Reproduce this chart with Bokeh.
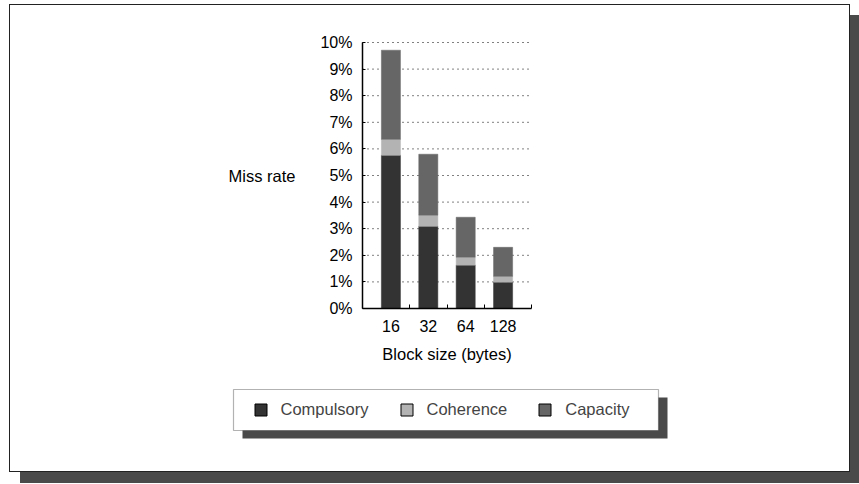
from bokeh.plotting import figure
from bokeh.models import (Range1d, LinearAxis, FixedTicker, PrintfTickFormatter, Legend,
                          LegendItem, BoxAnnotation, ColumnDataSource)
from bokeh.embed import file_html
from bokeh.resources import INLINE

# ---- data ----
block_sizes = ["16", "32", "64", "128"]
compulsory = [5.76, 3.09, 1.63, 0.99]
coherence = [0.60, 0.42, 0.30, 0.22]
capacity = [3.35, 2.29, 1.50, 1.09]
series = ["Compulsory", "Coherence", "Capacity"]
colors = ["#333333", "#b3b3b3", "#666666"]
y_ticks = list(range(0, 11))

FONT = "Liberation Sans"

# ---- layout (canvas pixels) ----
W, H = 841, 468
plot_left, plot_right = 352, 521
plot_top, plot_bottom = 37, 303
idx = list(range(len(block_sizes)))
x_lo, x_hi = -0.76, len(block_sizes) - 1 + 0.76
y_lo, y_hi = 0, 10
xs = (plot_right - plot_left) / (x_hi - x_lo)
ys = (plot_bottom - plot_top) / (y_hi - y_lo)
x_range = Range1d(x_lo - plot_left / xs, x_hi + (W - plot_right) / xs)
y_range = Range1d(y_lo - (H - plot_bottom) / ys, y_hi + plot_top / ys)

p = figure(width=W, height=H, output_backend="svg", toolbar_location=None,
           x_range=x_range, y_range=y_range, x_axis_type=None, y_axis_type=None,
           min_border=0)
p.outline_line_color = None
p.background_fill_color = "white"
p.border_fill_color = "white"
p.styles = {"border": "1px solid #222222", "box-shadow": "11px 11px 0 #4a4a4a",
            "margin-left": "9px", "margin-top": "4px"}

# dotted grid lines across the plot area
p.segment(x0=x_lo, x1=x_hi, y0=y_ticks, y1=y_ticks, line_color="black",
          line_dash="1 4", line_width=1, level="underlay")

src = ColumnDataSource(dict(x=idx, Compulsory=compulsory, Coherence=coherence, Capacity=capacity))
p.vbar_stack(series, x="x", width=0.51, source=src, fill_color=colors, line_color=colors, line_width=0.5)

yaxis = LinearAxis(fixed_location=x_lo, bounds=(y_lo, y_hi),
                   ticker=FixedTicker(ticks=y_ticks), formatter=PrintfTickFormatter(format="%d%%"),
                   major_tick_in=3, major_tick_out=0, minor_tick_line_color=None,
                   major_label_standoff=10, axis_line_width=1.5, major_tick_line_width=1,
                   major_label_text_font=FONT, major_label_text_font_size="16px",
                   major_label_text_color="black",
                   axis_label="Miss rate", axis_label_orientation="horizontal",
                   axis_label_standoff=22, axis_label_text_font=FONT,
                   axis_label_text_font_size="16.5px", axis_label_text_font_style="normal",
                   axis_label_text_color="black")
p.add_layout(yaxis, "left")

xaxis = LinearAxis(fixed_location=y_lo, bounds=(x_lo, x_hi),
                   ticker=FixedTicker(ticks=idx, minor_ticks=[0.5, 1.5, 2.5, x_hi]),
                   major_label_overrides={i: s for i, s in zip(idx, block_sizes)},
                   major_tick_in=0, major_tick_out=0, minor_tick_in=4, minor_tick_out=0,
                   minor_tick_line_width=1, axis_line_width=1.5,
                   major_label_standoff=11, axis_label="Block size (bytes)",
                   axis_label_standoff=10, axis_label_text_font=FONT,
                   axis_label_text_font_size="16.5px", axis_label_text_font_style="normal",
                   axis_label_text_color="black",
                   major_label_text_font=FONT, major_label_text_font_size="16px",
                   major_label_text_color="black")
p.add_layout(xaxis, "below")

# legend shadow and box
p.add_layout(BoxAnnotation(left=232, right=657, top=76, bottom=35,
                           left_units="screen", right_units="screen", top_units="screen", bottom_units="screen",
                           fill_color="#4a4a4a", fill_alpha=1, line_color=None))
p.add_layout(BoxAnnotation(left=223, right=648, top=84, bottom=43,
                           left_units="screen", right_units="screen", top_units="screen", bottom_units="screen",
                           fill_color="white", fill_alpha=1, line_color="black", line_width=1.2))

nan = float("nan")
leg_renderers = [p.quad(left=[nan], right=[nan], top=[nan], bottom=[nan],
                        fill_color=c, line_color="black", line_width=1)
                 for c in colors]
legend = Legend(items=[LegendItem(label=s, renderers=[r]) for s, r in zip(series, leg_renderers)],
                orientation="horizontal", location=(242.5, 54), padding=0, margin=0,
                spacing=30, label_standoff=13, glyph_width=15, glyph_height=15, label_height=15,
                label_text_font=FONT, label_text_font_size="16.5px",
                border_line_color=None, background_fill_alpha=0)
p.add_layout(legend)

open("out.html", "w").write(file_html(p, INLINE))
